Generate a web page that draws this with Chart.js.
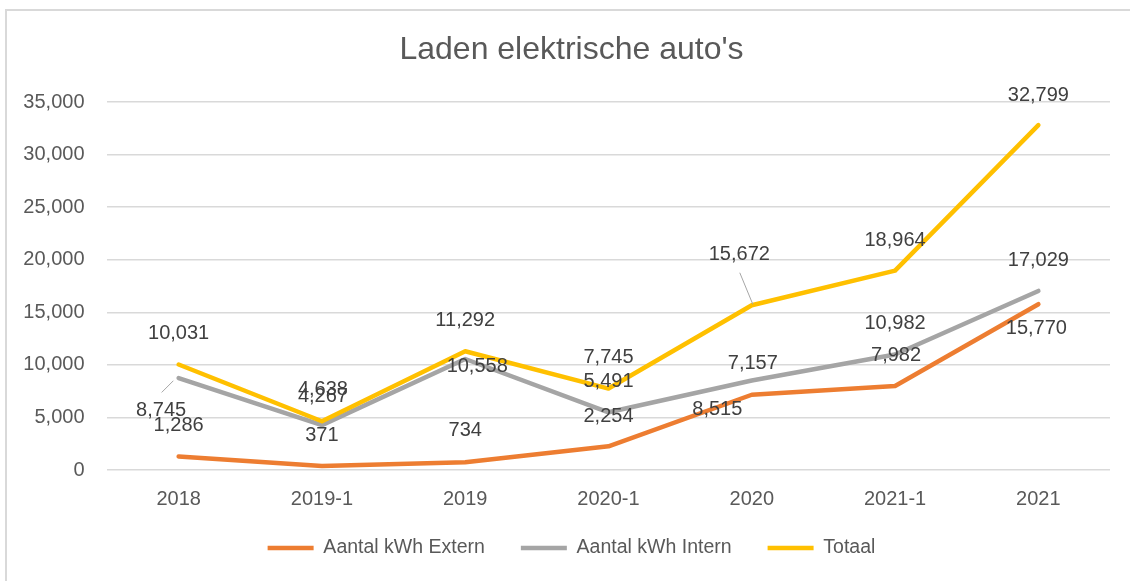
<!DOCTYPE html>
<html lang="nl">
<head>
  <meta charset="UTF-8">
  <title>Laden elektrische auto's</title>
  <script src="https://cdn.jsdelivr.net/npm/chart.js"></script>
  <style>
    html, body { margin: 0; padding: 0; background: #fff; overflow: hidden; }
    .frame {
      position: absolute;
      left: 5px;
      top: 9px;
      width: 1129px;
      height: 580px;
      border-left: 2px solid #d9d9d9;
      border-top: 2px solid #d9d9d9;
    }
    canvas { display: block; }
  </style>
</head>
<body>
  <div class="frame"><canvas id="chargeChart" width="1129" height="570"></canvas></div>

  <script>
    // data
    const categories = ['2018', '2019-1', '2019', '2020-1', '2020', '2021-1', '2021'];
    const extern = [1286, 371, 734, 2254, 7157, 7982, 15770];
    const intern = [8745, 4267, 10558, 5491, 8515, 10982, 17029];
    const totaal = [10031, 4638, 11292, 7745, 15672, 18964, 32799];
    const yMax = 35000;
    const yStep = 5000;

    // where each value label sits relative to its point (as Excel placed them)
    const labelOffsets = [
      [[0, -30.5], [0, -31], [0, -31.6], [0, -30.3], [1, -31.5], [1, -31], [-2, 24]],
      [[-17.5, 32], [1, -28.5], [12, 7], [0, -30.6], [-34.5, 29.5], [0, -31.2], [0, -30]],
      [[0, -31], [1, -32], [0, -30.6], [0, -31.3], [-12.5, -51], [0, -30.6], [0, -30]]
    ];
    const leaders = [
      { ds: 1, i: 0, from: [-17, 14.4], to: [-5.3, 2.7] },
      { ds: 2, i: 4, from: [-12, -32.5], to: [1, -1] }
    ];

    Chart.defaults.font.family = "'Liberation Sans', Arial, sans-serif";
    Chart.defaults.color = '#595959';

    const dataLabels = {
      id: 'dataLabels',
      afterDatasetsDraw(chart) {
        const ctx = chart.ctx;
        ctx.save();
        ctx.strokeStyle = '#a6a6a6';
        ctx.lineWidth = 1;
        leaders.forEach(l => {
          const pt = chart.getDatasetMeta(l.ds).data[l.i];
          ctx.beginPath();
          ctx.moveTo(pt.x + l.from[0], pt.y + l.from[1]);
          ctx.lineTo(pt.x + l.to[0], pt.y + l.to[1]);
          ctx.stroke();
        });
        ctx.font = "20px 'Liberation Sans', Arial, sans-serif";
        ctx.fillStyle = '#404040';
        ctx.textAlign = 'center';
        ctx.textBaseline = 'middle';
        chart.data.datasets.forEach((ds, d) => {
          chart.getDatasetMeta(d).data.forEach((pt, i) => {
            const [dx, dy] = labelOffsets[d][i];
            ctx.fillText(ds.data[i].toLocaleString('en-US'), pt.x + dx, pt.y + dy);
          });
        });
        ctx.restore();
      }
    };

    const lineStyle = (color, order) => ({
      borderColor: color,
      backgroundColor: color,
      borderWidth: 4.5,
      borderCapStyle: 'round',
      borderJoinStyle: 'round',
      pointRadius: 0,
      tension: 0,
      fill: false,
      order: order
    });

    const ctx = document.getElementById('chargeChart').getContext('2d');
    const chart = new Chart(ctx, {
      type: 'line',
      data: {
        labels: categories,
        datasets: [
          { label: 'Aantal kWh Extern', data: extern, ...lineStyle('#ED7D31', 3) },
          { label: 'Aantal kWh Intern', data: intern, ...lineStyle('#A5A5A5', 2) },
          { label: 'Totaal', data: totaal, ...lineStyle('#FFC000', 1) }
        ]
      },
      options: {
        responsive: false,
        animation: false,
        layout: { padding: { left: 26, right: 26, top: 0, bottom: 13.25 } },
        plugins: {
          title: {
            display: true,
            text: "Laden elektrische auto's",
            color: '#595959',
            font: { size: 32, weight: 'normal' },
            padding: { top: 20.1, bottom: 32.5 }
          },
          legend: {
            position: 'bottom',
            labels: {
              usePointStyle: true,
              pointStyle: 'line',
              pointStyleWidth: 46,
              padding: 36,
              color: '#595959',
              font: { size: 19.5 },
              sort: (a, b) => a.datasetIndex - b.datasetIndex
            }
          },
          tooltip: { enabled: false }
        },
        scales: {
          x: {
            offset: true,
            grid: { display: false, offset: true },
            border: { display: false },
            ticks: { mirror: true, padding: -41, font: { size: 20 }, color: '#595959' },
            afterFit: s => { s.height = 32.25; }
          },
          y: {
            min: 0,
            max: yMax,
            grid: { color: '#d9d9d9', lineWidth: 1.5, drawTicks: false },
            border: { display: false },
            ticks: {
              stepSize: yStep,
              mirror: true,
              crossAlign: 'far',
              padding: -83.66,
              font: { size: 20 },
              color: '#595959',
              callback: v => v.toLocaleString('en-US')
            },
            afterFit: s => { s.width = 74; }
          }
        }
      },
      plugins: [dataLabels]
    });
  </script>
</body>
</html>
